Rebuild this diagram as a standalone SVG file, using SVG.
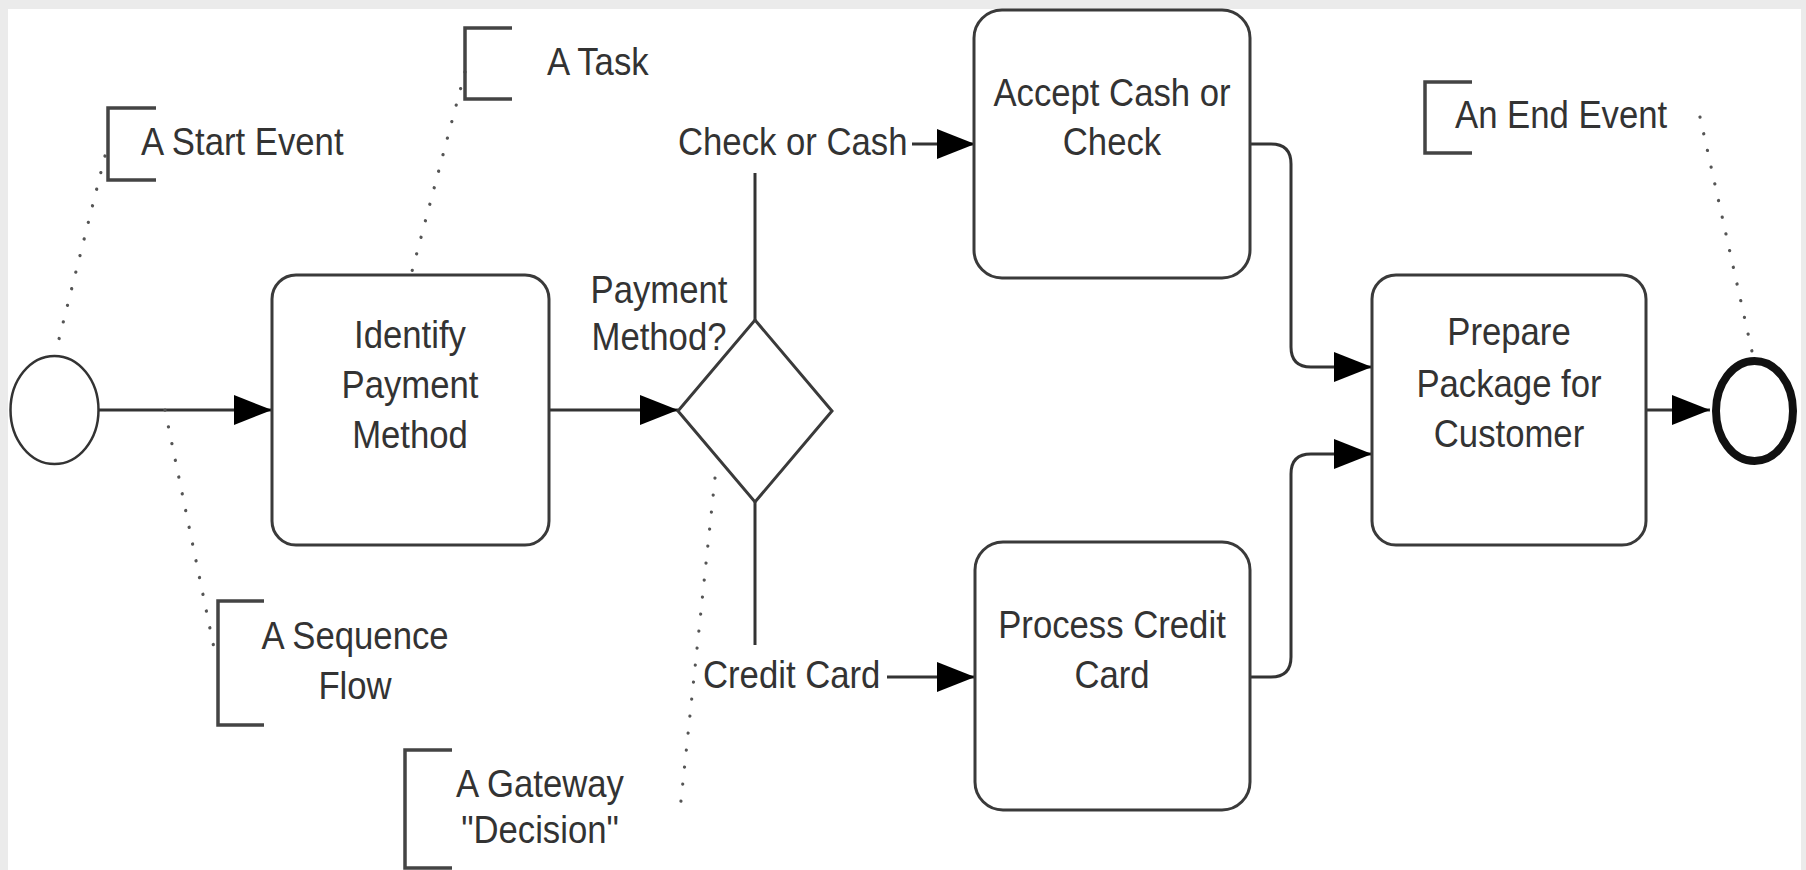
<svg xmlns="http://www.w3.org/2000/svg" width="1806" height="870" viewBox="0 0 1806 870">
<style>
.t{font-family:"Liberation Sans",Arial,sans-serif;font-size:39px;fill:#333}
.m{text-anchor:middle}
.box{fill:#fff;stroke:#3a3a3a;stroke-width:3}
.flow{fill:none;stroke:#333;stroke-width:3}
.br{fill:none;stroke:#444;stroke-width:3.5}
.dot{fill:none;stroke:#555;stroke-width:3.2;stroke-linecap:round;stroke-dasharray:0.1 17}
</style>
<defs>
<marker id="arr" markerUnits="userSpaceOnUse" markerWidth="38" markerHeight="30" refX="38" refY="15" orient="auto">
<path d="M0,0 L38,15 L0,30 z" fill="#000"/>
</marker>
</defs>
<rect x="0" y="0" width="1806" height="870" fill="#ebebeb"/>
<rect x="8" y="9" width="1793" height="861" fill="#fff"/>

<g id="connectors">
<path class="flow" d="M99,410 H272" marker-end="url(#arr)"/>
<path class="flow" d="M549,410 H678" marker-end="url(#arr)"/>
<path class="flow" d="M755,320 V173"/>
<path class="flow" d="M912,144 H975" marker-end="url(#arr)"/>
<path class="flow" d="M755,502 V645"/>
<path class="flow" d="M887,677 H975" marker-end="url(#arr)"/>
<path class="flow" d="M1250,144 H1271 Q1291,144 1291,164 V347 Q1291,367 1311,367 H1372" marker-end="url(#arr)"/>
<path class="flow" d="M1250,677 H1271 Q1291,677 1291,657 V474 Q1291,454 1311,454 H1372" marker-end="url(#arr)"/>
<path class="flow" d="M1646,410 H1710" marker-end="url(#arr)"/>
<path class="dot" d="M105,156 L55,355"/>
<path class="dot" d="M465,72 L411,275"/>
<path class="dot" d="M1700,117 L1753,356"/>
<path class="dot" d="M165,410 L214,648"/>
<path class="dot" d="M715,478 L680,810"/>
</g>

<g id="start-event">
<ellipse cx="54.5" cy="410" rx="44" ry="54" fill="#fff" stroke="#333" stroke-width="2.5"/>
</g>
<g id="identify-payment">
<rect class="box" x="272" y="275" width="277" height="270" rx="24"/>
<text class="t m" transform="translate(410,348) scale(0.89,1)"><tspan x="0" y="0">Identify</tspan><tspan x="0" y="50">Payment</tspan><tspan x="0" y="100">Method</tspan></text>
</g>
<g id="gateway">
<polygon points="755,320 832,411 755,502 678,411" fill="#fff" stroke="#3a3a3a" stroke-width="3"/>
<text class="t m" transform="translate(659,303) scale(0.89,1)"><tspan x="0" y="0">Payment</tspan><tspan x="0" y="47">Method?</tspan></text>
</g>
<g id="label-check">
<text class="t" transform="translate(678,155) scale(0.89,1)">Check or Cash</text>
</g>
<g id="label-credit">
<text class="t" transform="translate(703,688) scale(0.89,1)">Credit Card</text>
</g>
<g id="accept-cash">
<rect class="box" x="974" y="10" width="276" height="268" rx="28"/>
<text class="t m" transform="translate(1112,106) scale(0.89,1)"><tspan x="0" y="0">Accept Cash or</tspan><tspan x="0" y="49">Check</tspan></text>
</g>
<g id="process-credit">
<rect class="box" x="975" y="542" width="275" height="268" rx="28"/>
<text class="t m" transform="translate(1112,638) scale(0.89,1)"><tspan x="0" y="0">Process Credit</tspan><tspan x="0" y="50">Card</tspan></text>
</g>
<g id="prepare-package">
<rect class="box" x="1372" y="275" width="274" height="270" rx="24"/>
<text class="t m" transform="translate(1509,345) scale(0.89,1)"><tspan x="0" y="0">Prepare</tspan><tspan x="0" y="52">Package for</tspan><tspan x="0" y="102">Customer</tspan></text>
</g>
<g id="end-event">
<ellipse cx="1754.5" cy="411" rx="38.5" ry="50" fill="#fff" stroke="#111" stroke-width="8"/>
</g>

<g id="note-start">
<path class="br" d="M156,108 H108 V180 H156"/>
<text class="t" transform="translate(141,155) scale(0.89,1)">A Start Event</text>
</g>
<g id="note-task">
<path class="br" d="M512,28 H465 V99 H512"/>
<text class="t" transform="translate(547,75) scale(0.89,1)">A Task</text>
</g>
<g id="note-end">
<path class="br" d="M1472,82 H1425 V153 H1472"/>
<text class="t" transform="translate(1455,128) scale(0.89,1)">An End Event</text>
</g>
<g id="note-sequence">
<path class="br" d="M264,601 H218 V725 H264"/>
<text class="t m" transform="translate(355,649) scale(0.89,1)"><tspan x="0" y="0">A Sequence</tspan><tspan x="0" y="50">Flow</tspan></text>
</g>
<g id="note-gateway">
<path class="br" d="M452,750 H405 V868 H452"/>
<text class="t m" transform="translate(540,797) scale(0.89,1)"><tspan x="0" y="0">A Gateway</tspan><tspan x="0" y="46">"Decision"</tspan></text>
</g>
</svg>
